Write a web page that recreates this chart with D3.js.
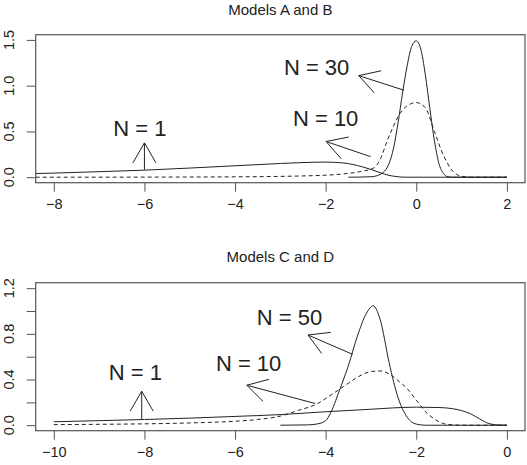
<!DOCTYPE html>
<html>
<head>
<meta charset="utf-8">
<script src="https://cdn.jsdelivr.net/npm/d3@7"></script>
<style>
  body { margin: 0; background: #fff; }
  svg text { font-family: "Liberation Sans", Arial, Helvetica, sans-serif; fill: #222; }
</style>
</head>
<body>
<svg id="chart" width="527" height="465"></svg>
<script>
// ---- panel 1: Models A and B ----
const abN1 = [[-8.4,0.04],[-8,0.045],[-7,0.06],[-6,0.077],[-5,0.1],[-4,0.125],[-3,0.15],[-2.5,0.16],[-2,0.165],
  [-1.6,0.155],[-1.2,0.115],[-1,0.085],[-0.8,0.05],[-0.6,0.02],[-0.4,0.005],[-0.2,0],[2,0]];
const abN10 = [[-8.4,0],[-6,0.001],[-4,0.004],[-3,0.009],[-2.5,0.014],[-2,0.022],[-1.6,0.036],[-1.2,0.065],[-0.94,0.1],
  [-0.8,0.19],[-0.64,0.4],[-0.5,0.56],[-0.38,0.68],[-0.2,0.78],[0,0.815],[0.2,0.76],[0.4,0.5],[0.6,0.24],
  [0.8,0.07],[1.0,0.01],[1.2,0],[2,0]];
const abN30 = [[-1.5,0],[-1,0.005],[-0.8,0.03],[-0.6,0.15],[-0.5,0.32],[-0.4,0.6],[-0.3,0.93],[-0.2,1.22],[-0.1,1.43],
  [0,1.49],[0.1,1.4],[0.2,1.12],[0.3,0.75],[0.4,0.4],[0.5,0.15],[0.6,0.04],[0.7,0.005],[0.8,0],[2,0]];
const abXTicks = [-8, -6, -4, -2, 0, 2];
const abYTicks = [0, 0.5, 1.0, 1.5];
const abLabels = [["N = 1", -6.1, 0.54], ["N = 30", -2.2, 1.2], ["N = 10", -2.0, 0.65]];
const abArrows = [[-6, 0.08, -6, 0.375], [-0.27, 0.95, -1.27, 1.11], [-1.01, 0.225, -1.99, 0.39]];

// ---- panel 2: Models C and D ----
const cdN1 = [[-10,0.03],[-9,0.04],[-8,0.05],[-7,0.062],[-6,0.077],[-5,0.093],[-4,0.118],[-3,0.14],[-2.5,0.152],
  [-2,0.158],[-1.5,0.155],[-1.2,0.145],[-1,0.128],[-0.8,0.1],[-0.6,0.055],[-0.4,0.015],[-0.2,0.002],[0,0]];
const cdN10 = [[-10,0.005],[-9,0.008],[-8,0.012],[-7,0.02],[-6,0.035],[-5.5,0.05],[-5,0.08],[-4.6,0.13],[-4.2,0.185],
  [-3.9,0.26],[-3.6,0.34],[-3.3,0.42],[-3,0.47],[-2.8,0.475],[-2.6,0.45],[-2.4,0.39],[-2.2,0.32],[-2,0.22],
  [-1.8,0.12],[-1.6,0.055],[-1.4,0.015],[-1.2,0.003],[-1,0],[0,0]];
const cdN50 = [[-5,0],[-4.4,0.003],[-4.2,0.01],[-4,0.04],[-3.9,0.1],[-3.7,0.3],[-3.5,0.52],[-3.3,0.78],[-3.1,0.98],
  [-2.95,1.045],[-2.8,0.93],[-2.6,0.55],[-2.5,0.38],[-2.4,0.24],[-2.2,0.07],[-2,0.01],[-1.8,0],[0,0]];
const cdXTicks = [-10, -8, -6, -4, -2, 0];
const cdYTicks = [0, 0.2, 0.4, 0.6, 0.8, 1.0, 1.2];
const cdYLabels = [0, 0.4, 0.8, 1.2];
const cdLabels = [["N = 1", -8.2, 0.467], ["N = 10", -5.7, 0.545], ["N = 50", -4.8, 0.95]];
const cdArrows = [[-8.06, 0.053, -8.06, 0.298], [-4.23, 0.19, -5.74, 0.35], [-3.4, 0.62, -4.39, 0.79]];

const svg = d3.select("#chart");
const ink = "#222";
const boxCol = "#555";

function panel(opt) {
  const g = svg.append("g");
  const x = d3.scaleLinear().domain(opt.xDomain).range([35.7, 525]);
  const y = d3.scaleLinear().domain(opt.yDomain).range([opt.bottom, opt.top]);

  g.append("text")
    .attr("x", (35.7 + 525) / 2).attr("y", opt.titleY)
    .attr("text-anchor", "middle").attr("font-size", "15px")
    .text(opt.title);

  const clipId = "clip" + opt.id;
  g.append("clipPath").attr("id", clipId)
    .append("rect").attr("x", 35.7).attr("y", opt.top)
    .attr("width", 525 - 35.7).attr("height", opt.bottom - opt.top);

  const line = d3.line().x(d => x(d[0])).y(d => y(d[1])).curve(d3.curveMonotoneX);
  const curves = g.append("g").attr("clip-path", `url(#${clipId})`);
  opt.series.forEach(s => {
    curves.append("path")
      .attr("d", line(s.data))
      .attr("fill", "none").attr("stroke", ink).attr("stroke-width", 1)
      .attr("stroke-dasharray", s.dash ? "4,3" : null);
  });

  // box
  g.append("rect")
    .attr("x", 35.7).attr("y", opt.top)
    .attr("width", 525 - 35.7).attr("height", opt.bottom - opt.top)
    .attr("fill", "none").attr("stroke", boxCol).attr("stroke-width", 1.2);

  // x axis
  const xa = d3.axisBottom(x).tickValues(opt.xTicks).tickSize(9).tickPadding(7)
    .tickFormat(d => d3.format("d")(d).replace("-", "\u2212"));
  const xg = g.append("g").attr("transform", `translate(0,${opt.bottom})`).call(xa);
  xg.select(".domain").remove();
  xg.selectAll("line").attr("stroke", boxCol);
  xg.selectAll("text").attr("font-size", "14.5px").attr("fill", ink).attr("font-family", null);

  // y axis
  const ya = d3.axisLeft(y).tickValues(opt.yTicks).tickSize(9).tickFormat("");
  const yg = g.append("g").attr("transform", "translate(35.7,0)").call(ya);
  yg.select(".domain").remove();
  yg.selectAll("line").attr("stroke", boxCol);
  g.selectAll(".ylab").data(opt.yLabels).join("text")
    .attr("class", "ylab")
    .attr("transform", d => `translate(14,${y(d)}) rotate(-90)`)
    .attr("text-anchor", "middle").attr("font-size", "14.5px")
    .text(d => d3.format(".1f")(d));

  // annotations
  g.selectAll(".nlab").data(opt.labels).join("text")
    .attr("class", "nlab")
    .attr("x", d => x(d[1])).attr("y", d => y(d[2]))
    .attr("dy", "0.36em").attr("text-anchor", "middle").attr("font-size", "22px")
    .text(d => d[0]);

  const headLen = 23, headAng = Math.PI / 6;
  opt.arrows.forEach(a => {
    const x0 = x(a[0]), y0 = y(a[1]), x1 = x(a[2]), y1 = y(a[3]);
    const ang = Math.atan2(y0 - y1, x0 - x1);
    const p = d3.path();
    p.moveTo(x0, y0); p.lineTo(x1, y1);
    p.moveTo(x1 + headLen * Math.cos(ang + headAng), y1 + headLen * Math.sin(ang + headAng));
    p.lineTo(x1, y1);
    p.lineTo(x1 + headLen * Math.cos(ang - headAng), y1 + headLen * Math.sin(ang - headAng));
    g.append("path").attr("d", p.toString())
      .attr("fill", "none").attr("stroke", ink).attr("stroke-width", 1);
  });
}

panel({
  id: "ab", title: "Models A and B", titleY: 15,
  xDomain: [-8.4, 2.4], yDomain: [-0.06, 1.557], top: 34.7, bottom: 182.7,
  xTicks: abXTicks, yTicks: abYTicks, yLabels: abYTicks,
  series: [{ data: abN1 }, { data: abN10, dash: true }, { data: abN30 }],
  labels: abLabels, arrows: abArrows
});

panel({
  id: "cd", title: "Models C and D", titleY: 262,
  xDomain: [-10.4, 0.4], yDomain: [-0.048, 1.248], top: 282.7, bottom: 430.7,
  xTicks: cdXTicks, yTicks: cdYTicks, yLabels: cdYLabels,
  series: [{ data: cdN1 }, { data: cdN10, dash: true }, { data: cdN50 }],
  labels: cdLabels, arrows: cdArrows
});
</script>
</body>
</html>
